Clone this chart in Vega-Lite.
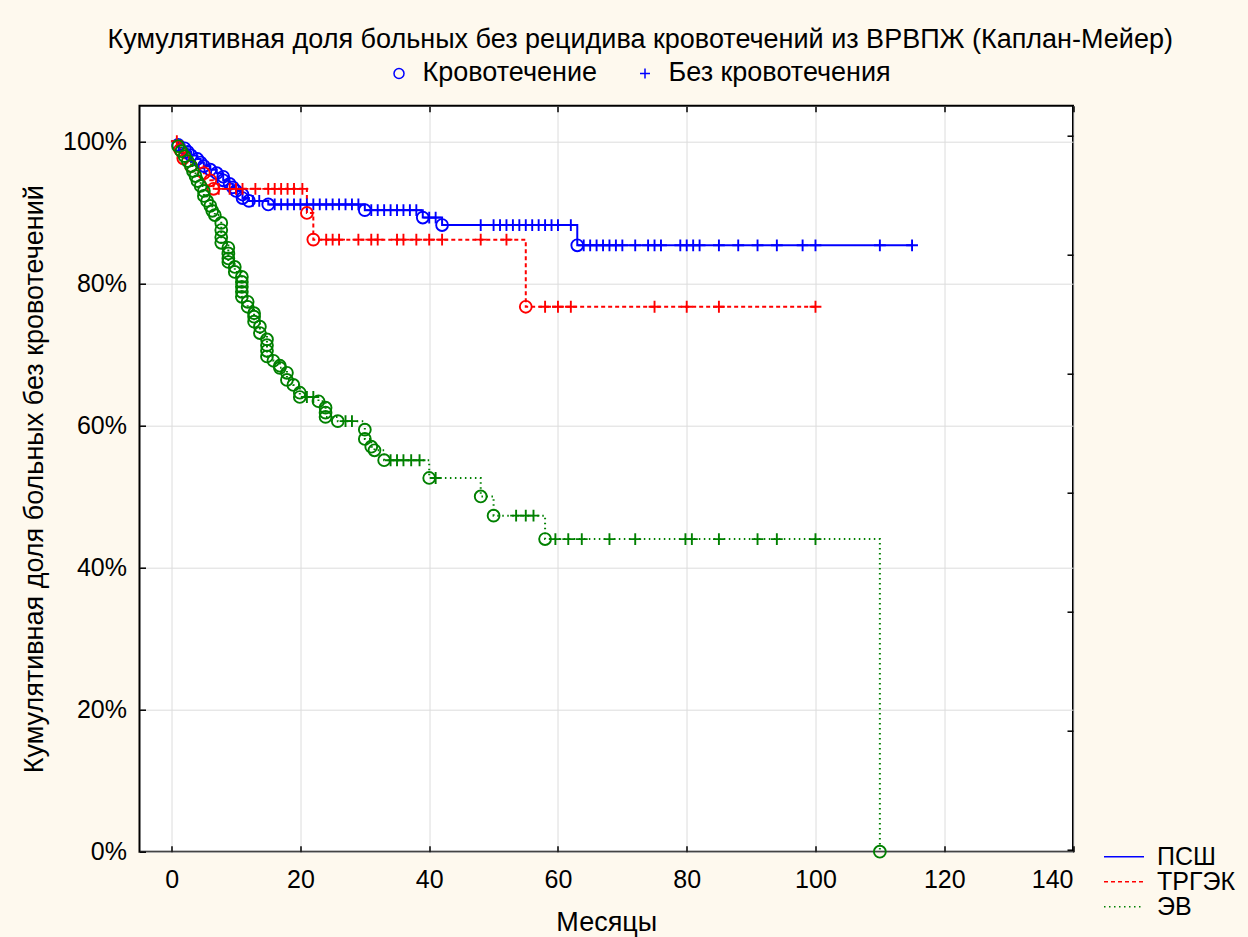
{
  "$schema": "https://vega.github.io/schema/vega-lite/v6.json",
  "width": 933.5,
  "height": 746,
  "autosize": "none",
  "padding": {"left": 139.5, "top": 105.7, "right": 174.5, "bottom": 85.3},
  "background": "#FEF9EE",
  "config": {
    "font": "Liberation Sans",
    "view": {"fill": "white", "stroke": "black", "strokeWidth": 2},
    "axis": {"labelFontSize": 25, "labelColor": "black", "titleFontSize": 27, "titleFontWeight": "normal", "titleColor": "black", "domainColor": "black", "domainWidth": 1.5, "tickColor": "black", "tickWidth": 1.5, "gridColor": "#dcdcdc", "gridWidth": 1, "tickSize": -6},
    "legend": {"labelFontSize": 25, "labelColor": "black", "labelLimit": 0}
  },
  "title": {"text": "Кумулятивная доля больных без рецидива кровотечений из ВРВПЖ (Каплан-Мейер)", "fontSize": 27, "fontWeight": "normal", "color": "black", "anchor": "middle", "frame": "group", "dx": 34, "offset": 6},
  "datasets": {
    "km": [
      {"g": "ПСШ", "t": 0, "s": 1, "k": "s"},
      {"g": "ПСШ", "t": 1, "s": 0.995, "k": "e"},
      {"g": "ПСШ", "t": 2, "s": 0.99, "k": "e"},
      {"g": "ПСШ", "t": 2.5, "s": 0.985, "k": "e"},
      {"g": "ПСШ", "t": 3, "s": 0.98, "k": "e"},
      {"g": "ПСШ", "t": 4, "s": 0.975, "k": "e"},
      {"g": "ПСШ", "t": 4.5, "s": 0.97, "k": "e"},
      {"g": "ПСШ", "t": 5, "s": 0.965, "k": "e"},
      {"g": "ПСШ", "t": 6, "s": 0.96, "k": "e"},
      {"g": "ПСШ", "t": 7, "s": 0.955, "k": "e"},
      {"g": "ПСШ", "t": 8, "s": 0.95, "k": "e"},
      {"g": "ПСШ", "t": 8, "s": 0.945, "k": "e"},
      {"g": "ПСШ", "t": 9, "s": 0.94, "k": "e"},
      {"g": "ПСШ", "t": 9.5, "s": 0.935, "k": "e"},
      {"g": "ПСШ", "t": 10, "s": 0.93, "k": "e"},
      {"g": "ПСШ", "t": 11, "s": 0.925, "k": "e"},
      {"g": "ПСШ", "t": 11, "s": 0.92, "k": "e"},
      {"g": "ПСШ", "t": 12, "s": 0.916, "k": "e"},
      {"g": "ПСШ", "t": 12.6, "s": 0.916, "k": "c"},
      {"g": "ПСШ", "t": 13.6, "s": 0.916, "k": "c"},
      {"g": "ПСШ", "t": 15, "s": 0.911, "k": "e"},
      {"g": "ПСШ", "t": 16, "s": 0.911, "k": "c"},
      {"g": "ПСШ", "t": 17, "s": 0.911, "k": "c"},
      {"g": "ПСШ", "t": 18, "s": 0.911, "k": "c"},
      {"g": "ПСШ", "t": 19, "s": 0.911, "k": "c"},
      {"g": "ПСШ", "t": 20, "s": 0.911, "k": "c"},
      {"g": "ПСШ", "t": 21, "s": 0.911, "k": "c"},
      {"g": "ПСШ", "t": 22, "s": 0.911, "k": "c"},
      {"g": "ПСШ", "t": 23, "s": 0.911, "k": "c"},
      {"g": "ПСШ", "t": 24, "s": 0.911, "k": "c"},
      {"g": "ПСШ", "t": 25, "s": 0.911, "k": "c"},
      {"g": "ПСШ", "t": 26, "s": 0.911, "k": "c"},
      {"g": "ПСШ", "t": 27, "s": 0.911, "k": "c"},
      {"g": "ПСШ", "t": 28, "s": 0.911, "k": "c"},
      {"g": "ПСШ", "t": 29, "s": 0.911, "k": "c"},
      {"g": "ПСШ", "t": 30, "s": 0.903, "k": "e"},
      {"g": "ПСШ", "t": 31, "s": 0.903, "k": "c"},
      {"g": "ПСШ", "t": 32, "s": 0.903, "k": "c"},
      {"g": "ПСШ", "t": 33, "s": 0.903, "k": "c"},
      {"g": "ПСШ", "t": 34, "s": 0.903, "k": "c"},
      {"g": "ПСШ", "t": 35, "s": 0.903, "k": "c"},
      {"g": "ПСШ", "t": 36, "s": 0.903, "k": "c"},
      {"g": "ПСШ", "t": 37, "s": 0.903, "k": "c"},
      {"g": "ПСШ", "t": 38, "s": 0.903, "k": "c"},
      {"g": "ПСШ", "t": 39, "s": 0.8925, "k": "e"},
      {"g": "ПСШ", "t": 40, "s": 0.8925, "k": "c"},
      {"g": "ПСШ", "t": 41, "s": 0.8925, "k": "c"},
      {"g": "ПСШ", "t": 42, "s": 0.882, "k": "e"},
      {"g": "ПСШ", "t": 48, "s": 0.882, "k": "c"},
      {"g": "ПСШ", "t": 50, "s": 0.882, "k": "c"},
      {"g": "ПСШ", "t": 51, "s": 0.882, "k": "c"},
      {"g": "ПСШ", "t": 52, "s": 0.882, "k": "c"},
      {"g": "ПСШ", "t": 53, "s": 0.882, "k": "c"},
      {"g": "ПСШ", "t": 54, "s": 0.882, "k": "c"},
      {"g": "ПСШ", "t": 55, "s": 0.882, "k": "c"},
      {"g": "ПСШ", "t": 56, "s": 0.882, "k": "c"},
      {"g": "ПСШ", "t": 57, "s": 0.882, "k": "c"},
      {"g": "ПСШ", "t": 58, "s": 0.882, "k": "c"},
      {"g": "ПСШ", "t": 59, "s": 0.882, "k": "c"},
      {"g": "ПСШ", "t": 60, "s": 0.882, "k": "c"},
      {"g": "ПСШ", "t": 62, "s": 0.882, "k": "c"},
      {"g": "ПСШ", "t": 63, "s": 0.8535, "k": "e"},
      {"g": "ПСШ", "t": 64, "s": 0.8535, "k": "c"},
      {"g": "ПСШ", "t": 65, "s": 0.8535, "k": "c"},
      {"g": "ПСШ", "t": 66, "s": 0.8535, "k": "c"},
      {"g": "ПСШ", "t": 67, "s": 0.8535, "k": "c"},
      {"g": "ПСШ", "t": 68, "s": 0.8535, "k": "c"},
      {"g": "ПСШ", "t": 69, "s": 0.8535, "k": "c"},
      {"g": "ПСШ", "t": 70, "s": 0.8535, "k": "c"},
      {"g": "ПСШ", "t": 72, "s": 0.8535, "k": "c"},
      {"g": "ПСШ", "t": 74, "s": 0.8535, "k": "c"},
      {"g": "ПСШ", "t": 75, "s": 0.8535, "k": "c"},
      {"g": "ПСШ", "t": 76, "s": 0.8535, "k": "c"},
      {"g": "ПСШ", "t": 79, "s": 0.8535, "k": "c"},
      {"g": "ПСШ", "t": 80, "s": 0.8535, "k": "c"},
      {"g": "ПСШ", "t": 81, "s": 0.8535, "k": "c"},
      {"g": "ПСШ", "t": 82, "s": 0.8535, "k": "c"},
      {"g": "ПСШ", "t": 85, "s": 0.8535, "k": "c"},
      {"g": "ПСШ", "t": 88, "s": 0.8535, "k": "c"},
      {"g": "ПСШ", "t": 91, "s": 0.8535, "k": "c"},
      {"g": "ПСШ", "t": 94, "s": 0.8535, "k": "c"},
      {"g": "ПСШ", "t": 98, "s": 0.8535, "k": "c"},
      {"g": "ПСШ", "t": 100, "s": 0.8535, "k": "c"},
      {"g": "ПСШ", "t": 110, "s": 0.8535, "k": "c"},
      {"g": "ПСШ", "t": 115, "s": 0.8535, "k": "c"},

      {"g": "ТРГЭК", "t": 0, "s": 1, "k": "s"},
      {"g": "ТРГЭК", "t": 0.8, "s": 1, "k": "c"},
      {"g": "ТРГЭК", "t": 1.3, "s": 0.988, "k": "e"},
      {"g": "ТРГЭК", "t": 1.8, "s": 0.976, "k": "e"},
      {"g": "ТРГЭК", "t": 3, "s": 0.965, "k": "e"},
      {"g": "ТРГЭК", "t": 5, "s": 0.955, "k": "e"},
      {"g": "ТРГЭК", "t": 6, "s": 0.945, "k": "e"},
      {"g": "ТРГЭК", "t": 6.5, "s": 0.933, "k": "e"},
      {"g": "ТРГЭК", "t": 7.3, "s": 0.933, "k": "c"},
      {"g": "ТРГЭК", "t": 9, "s": 0.933, "k": "c"},
      {"g": "ТРГЭК", "t": 10, "s": 0.933, "k": "c"},
      {"g": "ТРГЭК", "t": 11, "s": 0.933, "k": "c"},
      {"g": "ТРГЭК", "t": 13, "s": 0.933, "k": "c"},
      {"g": "ТРГЭК", "t": 15, "s": 0.933, "k": "c"},
      {"g": "ТРГЭК", "t": 16, "s": 0.933, "k": "c"},
      {"g": "ТРГЭК", "t": 17, "s": 0.933, "k": "c"},
      {"g": "ТРГЭК", "t": 18, "s": 0.933, "k": "c"},
      {"g": "ТРГЭК", "t": 19, "s": 0.933, "k": "c"},
      {"g": "ТРГЭК", "t": 20.3, "s": 0.933, "k": "c"},
      {"g": "ТРГЭК", "t": 21, "s": 0.899, "k": "e"},
      {"g": "ТРГЭК", "t": 22, "s": 0.8615, "k": "e"},
      {"g": "ТРГЭК", "t": 24, "s": 0.8615, "k": "c"},
      {"g": "ТРГЭК", "t": 25, "s": 0.8615, "k": "c"},
      {"g": "ТРГЭК", "t": 26, "s": 0.8615, "k": "c"},
      {"g": "ТРГЭК", "t": 29, "s": 0.8615, "k": "c"},
      {"g": "ТРГЭК", "t": 31, "s": 0.8615, "k": "c"},
      {"g": "ТРГЭК", "t": 32, "s": 0.8615, "k": "c"},
      {"g": "ТРГЭК", "t": 35, "s": 0.8615, "k": "c"},
      {"g": "ТРГЭК", "t": 36, "s": 0.8615, "k": "c"},
      {"g": "ТРГЭК", "t": 38, "s": 0.8615, "k": "c"},
      {"g": "ТРГЭК", "t": 40, "s": 0.8615, "k": "c"},
      {"g": "ТРГЭК", "t": 42, "s": 0.8615, "k": "c"},
      {"g": "ТРГЭК", "t": 48, "s": 0.8615, "k": "c"},
      {"g": "ТРГЭК", "t": 52, "s": 0.8615, "k": "c"},
      {"g": "ТРГЭК", "t": 55, "s": 0.767, "k": "e"},
      {"g": "ТРГЭК", "t": 58, "s": 0.767, "k": "c"},
      {"g": "ТРГЭК", "t": 60, "s": 0.767, "k": "c"},
      {"g": "ТРГЭК", "t": 62, "s": 0.767, "k": "c"},
      {"g": "ТРГЭК", "t": 75, "s": 0.767, "k": "c"},
      {"g": "ТРГЭК", "t": 80, "s": 0.767, "k": "c"},
      {"g": "ТРГЭК", "t": 85, "s": 0.767, "k": "c"},
      {"g": "ТРГЭК", "t": 100, "s": 0.767, "k": "c"},

      {"g": "ЭВ", "t": 0, "s": 1, "k": "s"},
      {"g": "ЭВ", "t": 1, "s": 0.993, "k": "e"},
      {"g": "ЭВ", "t": 1.5, "s": 0.986, "k": "e"},
      {"g": "ЭВ", "t": 2, "s": 0.979, "k": "e"},
      {"g": "ЭВ", "t": 2.5, "s": 0.972, "k": "e"},
      {"g": "ЭВ", "t": 3, "s": 0.965, "k": "e"},
      {"g": "ЭВ", "t": 3.3, "s": 0.958, "k": "e"},
      {"g": "ЭВ", "t": 3.7, "s": 0.951, "k": "e"},
      {"g": "ЭВ", "t": 4, "s": 0.944, "k": "e"},
      {"g": "ЭВ", "t": 4.5, "s": 0.937, "k": "e"},
      {"g": "ЭВ", "t": 5, "s": 0.93, "k": "e"},
      {"g": "ЭВ", "t": 5, "s": 0.923, "k": "e"},
      {"g": "ЭВ", "t": 5.5, "s": 0.916, "k": "e"},
      {"g": "ЭВ", "t": 6, "s": 0.909, "k": "e"},
      {"g": "ЭВ", "t": 6.3, "s": 0.902, "k": "e"},
      {"g": "ЭВ", "t": 6.7, "s": 0.896, "k": "e"},
      {"g": "ЭВ", "t": 7.7, "s": 0.885, "k": "e"},
      {"g": "ЭВ", "t": 7.7, "s": 0.875, "k": "e"},
      {"g": "ЭВ", "t": 7.7, "s": 0.865, "k": "e"},
      {"g": "ЭВ", "t": 7.7, "s": 0.857, "k": "e"},
      {"g": "ЭВ", "t": 8.8, "s": 0.85, "k": "e"},
      {"g": "ЭВ", "t": 8.8, "s": 0.842, "k": "e"},
      {"g": "ЭВ", "t": 8.8, "s": 0.835, "k": "e"},
      {"g": "ЭВ", "t": 8.8, "s": 0.83, "k": "e"},
      {"g": "ЭВ", "t": 9.8, "s": 0.823, "k": "e"},
      {"g": "ЭВ", "t": 9.8, "s": 0.816, "k": "e"},
      {"g": "ЭВ", "t": 10.9, "s": 0.809, "k": "e"},
      {"g": "ЭВ", "t": 10.9, "s": 0.802, "k": "e"},
      {"g": "ЭВ", "t": 10.9, "s": 0.795, "k": "e"},
      {"g": "ЭВ", "t": 10.9, "s": 0.788, "k": "e"},
      {"g": "ЭВ", "t": 10.9, "s": 0.781, "k": "e"},
      {"g": "ЭВ", "t": 11.8, "s": 0.774, "k": "e"},
      {"g": "ЭВ", "t": 11.8, "s": 0.767, "k": "e"},
      {"g": "ЭВ", "t": 12.8, "s": 0.758, "k": "e"},
      {"g": "ЭВ", "t": 12.8, "s": 0.753, "k": "e"},
      {"g": "ЭВ", "t": 12.8, "s": 0.746, "k": "e"},
      {"g": "ЭВ", "t": 13.7, "s": 0.739, "k": "e"},
      {"g": "ЭВ", "t": 13.7, "s": 0.73, "k": "e"},
      {"g": "ЭВ", "t": 14.8, "s": 0.721, "k": "e"},
      {"g": "ЭВ", "t": 14.8, "s": 0.713, "k": "e"},
      {"g": "ЭВ", "t": 14.8, "s": 0.705, "k": "e"},
      {"g": "ЭВ", "t": 14.8, "s": 0.697, "k": "e"},
      {"g": "ЭВ", "t": 15.8, "s": 0.691, "k": "e"},
      {"g": "ЭВ", "t": 16.8, "s": 0.684, "k": "e"},
      {"g": "ЭВ", "t": 16.8, "s": 0.681, "k": "e"},
      {"g": "ЭВ", "t": 17.9, "s": 0.674, "k": "e"},
      {"g": "ЭВ", "t": 17.9, "s": 0.664, "k": "e"},
      {"g": "ЭВ", "t": 18.9, "s": 0.657, "k": "e"},
      {"g": "ЭВ", "t": 19.9, "s": 0.646, "k": "e"},
      {"g": "ЭВ", "t": 19.9, "s": 0.64, "k": "e"},
      {"g": "ЭВ", "t": 21, "s": 0.64, "k": "c"},
      {"g": "ЭВ", "t": 22, "s": 0.64, "k": "c"},
      {"g": "ЭВ", "t": 22.8, "s": 0.634, "k": "e"},
      {"g": "ЭВ", "t": 23.9, "s": 0.625, "k": "e"},
      {"g": "ЭВ", "t": 23.9, "s": 0.618, "k": "e"},
      {"g": "ЭВ", "t": 23.9, "s": 0.612, "k": "e"},
      {"g": "ЭВ", "t": 25.8, "s": 0.606, "k": "e"},
      {"g": "ЭВ", "t": 27, "s": 0.606, "k": "c"},
      {"g": "ЭВ", "t": 28, "s": 0.606, "k": "c"},
      {"g": "ЭВ", "t": 30, "s": 0.594, "k": "e"},
      {"g": "ЭВ", "t": 30, "s": 0.581, "k": "e"},
      {"g": "ЭВ", "t": 31, "s": 0.57, "k": "e"},
      {"g": "ЭВ", "t": 31.5, "s": 0.565, "k": "e"},
      {"g": "ЭВ", "t": 33, "s": 0.551, "k": "e"},
      {"g": "ЭВ", "t": 34, "s": 0.551, "k": "c"},
      {"g": "ЭВ", "t": 35, "s": 0.551, "k": "c"},
      {"g": "ЭВ", "t": 36, "s": 0.551, "k": "c"},
      {"g": "ЭВ", "t": 37.2, "s": 0.551, "k": "c"},
      {"g": "ЭВ", "t": 38.5, "s": 0.551, "k": "c"},
      {"g": "ЭВ", "t": 40, "s": 0.526, "k": "e"},
      {"g": "ЭВ", "t": 41, "s": 0.526, "k": "c"},
      {"g": "ЭВ", "t": 48, "s": 0.5, "k": "e"},
      {"g": "ЭВ", "t": 50, "s": 0.473, "k": "e"},
      {"g": "ЭВ", "t": 53.5, "s": 0.473, "k": "c"},
      {"g": "ЭВ", "t": 55, "s": 0.473, "k": "c"},
      {"g": "ЭВ", "t": 56.2, "s": 0.473, "k": "c"},
      {"g": "ЭВ", "t": 58, "s": 0.44, "k": "e"},
      {"g": "ЭВ", "t": 59.6, "s": 0.44, "k": "c"},
      {"g": "ЭВ", "t": 61.6, "s": 0.44, "k": "c"},
      {"g": "ЭВ", "t": 63.7, "s": 0.44, "k": "c"},
      {"g": "ЭВ", "t": 68, "s": 0.44, "k": "c"},
      {"g": "ЭВ", "t": 72, "s": 0.44, "k": "c"},
      {"g": "ЭВ", "t": 79.8, "s": 0.44, "k": "c"},
      {"g": "ЭВ", "t": 80.8, "s": 0.44, "k": "c"},
      {"g": "ЭВ", "t": 85, "s": 0.44, "k": "c"},
      {"g": "ЭВ", "t": 91, "s": 0.44, "k": "c"},
      {"g": "ЭВ", "t": 94, "s": 0.44, "k": "c"},
      {"g": "ЭВ", "t": 100, "s": 0.44, "k": "c"},
      {"g": "ЭВ", "t": 110, "s": 0, "k": "e"}
    ]
  },
  "layer": [
    {
      "data": {"name": "km"},
      "layer": [
        {
          "mark": {"type": "line", "interpolate": "step-after", "strokeWidth": 2},
          "encoding": {
            "x": {"field": "t", "type": "quantitative", "scale": {"domain": [-5, 140], "nice": false, "zero": false},
                  "axis": {"values": [0, 20, 40, 60, 80, 100, 120, 140], "title": "Месяцы", "titlePadding": 17, "labelPadding": 22, "grid": true, "domain": false}},
            "y": {"field": "s", "type": "quantitative", "scale": {"domain": [0, 1.05], "nice": false, "zero": false},
                  "axis": {"values": [0, 0.2, 0.4, 0.6, 0.8, 1], "format": ".0%", "title": "Кумулятивная доля больных без кровотечений", "titlePadding": 14, "labelPadding": 19, "grid": true, "domain": false}},
            "color": {"field": "g", "type": "nominal",
                      "scale": {"domain": ["ПСШ", "ТРГЭК", "ЭВ"], "range": ["#0000FF", "#FF0000", "#008000"]},
                      "legend": {"title": null, "orient": "none", "legendX": 963.5, "legendY": 739, "symbolType": "stroke", "symbolSize": 1600, "symbolStrokeWidth": 1.5, "labelOffset": 12, "clipHeight": 24, "rowPadding": 0, "padding": 0}},
            "strokeDash": {"field": "g", "type": "nominal",
                           "scale": {"domain": ["ПСШ", "ТРГЭК", "ЭВ"], "range": [[1, 0], [4, 3], [1.5, 3.5]]}},
            "order": {"value": null}
          }
        },
        {
          "transform": [{"filter": "datum.k !== 's'"}],
          "mark": {"type": "point", "filled": false, "strokeWidth": 1.9, "size": 140, "opacity": 1},
          "encoding": {
            "x": {"field": "t", "type": "quantitative"},
            "y": {"field": "s", "type": "quantitative"},
            "color": {"field": "g", "type": "nominal"},
            "shape": {"field": "k", "type": "nominal",
                      "scale": {"domain": ["e", "c"], "range": ["circle", "M-1,0L1,0M0,-1L0,1"]},
                      "legend": {"title": null, "orient": "none", "direction": "horizontal", "legendX": 246, "legendY": -46, "symbolStrokeColor": "#0000FF", "symbolFillColor": "transparent", "symbolStrokeWidth": 1.5, "symbolSize": 100, "labelOffset": 10, "columnPadding": 34, "padding": 0, "labelFontSize": 27,
                                 "labelExpr": "datum.label === 'e' ? 'Кровотечение' : 'Без кровотечения'"}}
          }
        }
      ]
    },
    {
      "data": {"values": [{"x": 0, "r": 0}]},
      "mark": {"type": "point", "opacity": 0},
      "encoding": {
        "x": {"field": "x", "type": "quantitative", "scale": {"domain": [-5, 140], "nice": false, "zero": false},
              "axis": {"orient": "top", "values": [0, 20, 40, 60, 80, 100, 120, 140], "labels": false, "title": null, "grid": false, "domain": false}},
        "y": {"field": "r", "type": "quantitative", "scale": {"domain": [-0.0143, 6.255], "nice": false, "zero": false},
              "axis": {"orient": "right", "values": [0, 1, 2, 3, 4, 5, 6], "labels": false, "title": null, "grid": false, "domain": false}}
      }
    }
  ],
  "resolve": {"scale": {"y": "independent"}, "axis": {"x": "independent", "y": "independent"}}
}
